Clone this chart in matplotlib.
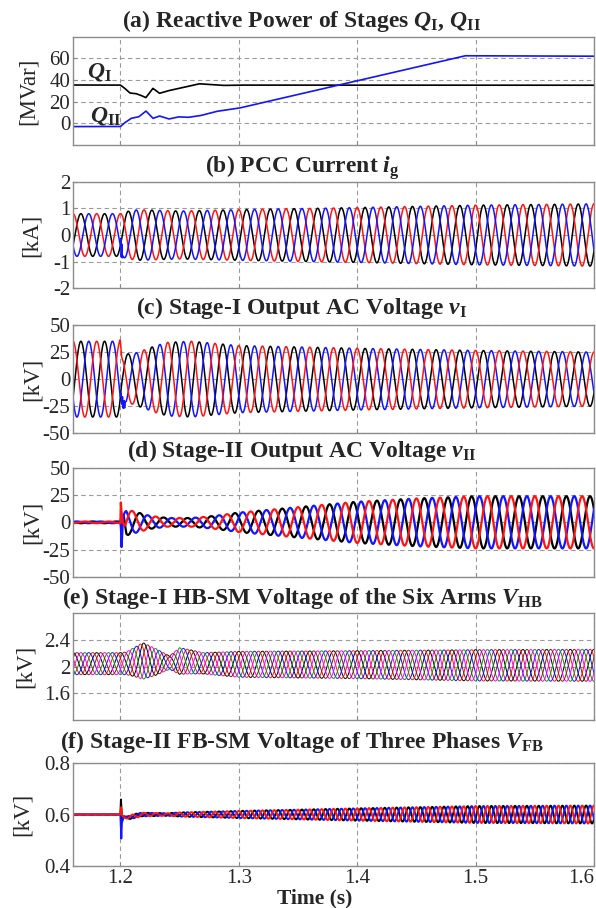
import numpy as np
import matplotlib
matplotlib.use("Agg")
import matplotlib.pyplot as plt

plt.rcParams['font.family'] = ['Liberation Serif', 'DejaVu Serif']
plt.rcParams['mathtext.fontset'] = 'custom'
plt.rcParams['mathtext.rm'] = 'Liberation Serif:bold'
plt.rcParams['mathtext.it'] = 'Liberation Serif:italic:bold'
plt.rcParams['mathtext.bf'] = 'Liberation Serif:bold'
plt.rcParams['axes.unicode_minus'] = False

# ---------------------------------------------------------------- data
F_GRID = 50.0            # fundamental frequency [Hz]
F_FB_RIPPLE = 100.0      # FB-SM capacitor ripple frequency [Hz]
T_START, T_END = 1.16, 1.6
t = np.linspace(T_START, T_END, 22001)

# (a) reactive power of the two stages [MVar]
q1_t = [1.16, 1.200, 1.203, 1.208, 1.213, 1.217, 1.2215, 1.2275, 1.233, 1.240,
        1.246, 1.2556, 1.2668, 1.276, 1.286, 1.30, 1.40, 1.50, 1.60]
q1_val = [35.4, 35.4, 33.0, 28.0, 27.5, 26.0, 23.7, 32.3, 27.7, 30.0,
          31.4, 33.8, 36.5, 35.8, 35.0, 35.3, 35.3, 35.3, 35.2]
q2_t = [1.16, 1.200, 1.203, 1.209, 1.2155, 1.2216, 1.2275, 1.233, 1.241,
        1.249, 1.257, 1.267, 1.281, 1.300, 1.491, 1.60]
q2_val = [-3.0, -3.0, 0.0, 4.6, 6.0, 11.4, 4.6, 6.8, 4.0,
          6.0, 5.5, 7.0, 11.0, 14.0, 62.4, 62.0]

# (b) PCC current amplitude envelope [kA]
ig_env_t = [1.16, 1.200, 1.205, 1.215, 1.25, 1.30, 1.40, 1.50, 1.60]
ig_env_amp = [0.80, 0.80, 0.88, 0.95, 0.90, 0.95, 1.03, 1.12, 1.17]
ig_blue_tr_t = [1.2000, 1.2004, 1.2008, 1.2012, 1.2016, 1.2022]
ig_blue_tr_val = [0.0, 0.35, -0.25, 0.30, -0.15, 0.0]

# (c) Stage-I output voltage amplitude envelope [kV]
v1_env_t = [1.16, 1.1995, 1.2015, 1.21, 1.22, 1.23, 1.24, 1.26, 1.28, 1.30, 1.40, 1.50, 1.60]
v1_env_amp = [35.0, 35.0, 24.0, 23.0, 27.0, 31.0, 34.0, 35.0, 33.0, 31.0, 28.5, 26.5, 25.0]
v1_blue_tr_t = [1.2000, 1.2006, 1.2012, 1.2018, 1.2024, 1.2030, 1.2036, 1.2042, 1.2050]
v1_blue_tr_val = [0.0, 6.0, -3.0, 5.0, -4.0, 4.0, -3.0, 2.0, 0.0]
v1_red_tr_t = [1.1990, 1.2000, 1.2010, 1.2030]
v1_red_tr_val = [0.0, 3.0, -4.0, 0.0]

# (d) Stage-II output voltage amplitude envelope [kV]
v2_phase_deg = 180.0
v2_env_t = [1.16, 1.200, 1.205, 1.215, 1.225, 1.24, 1.26, 1.28, 1.30, 1.35, 1.40, 1.45, 1.50, 1.60]
v2_env_amp = [0.8, 0.8, 12.0, 9.0, 6.0, 4.0, 4.0, 6.0, 9.0, 14.0, 19.0, 22.0, 24.0, 24.0]
v2_red_tr_t = [1.2000, 1.2004, 1.2008, 1.2020, 1.2040]
v2_red_tr_val = [0.0, 20.0, 14.0, 5.0, 0.0]
v2_blue_tr_t = [1.2000, 1.2005, 1.2010, 1.2018, 1.2030]
v2_blue_tr_val = [0.0, -6.0, -25.0, -8.0, 0.0]
v2_black_tr_t = [1.2000, 1.2008, 1.2030, 1.2050]
v2_black_tr_val = [0.0, 4.0, 8.0, 0.0]

# (e) Stage-I HB-SM voltages of the six arms [kV]
hb_env_t = [1.16, 1.200, 1.205, 1.212, 1.219, 1.230, 1.2415, 1.250, 1.260, 1.270, 1.30, 1.40, 1.50, 1.60]
hb_center = [2.045, 2.045, 2.05, 2.07, 2.085, 2.07, 2.06, 2.085, 2.07, 2.05, 2.035, 2.03, 2.02, 2.02]
hb_amp = [0.165, 0.165, 0.17, 0.22, 0.275, 0.20, 0.10, 0.20, 0.18, 0.16, 0.195, 0.21, 0.235, 0.24]
hb_arm_phase_deg = [0, 60, 120, 180, 240, 300]

# (f) Stage-II FB-SM voltages of the three phases [kV]
fb_nominal = 0.6
fb_env_t = [1.16, 1.200, 1.210, 1.240, 1.25, 1.30, 1.40, 1.50, 1.60]
fb_env_amp = [0.0, 0.0, 0.008, 0.005, 0.008, 0.014, 0.024, 0.033, 0.035]
fb_common_tr_t = [1.2000, 1.2030, 1.2070, 1.2120, 1.2180]
fb_common_tr_val = [0.0, -0.010, -0.012, -0.006, 0.0]
fb_black_tr_t = [1.2000, 1.2005, 1.2015, 1.2030]
fb_black_tr_val = [0.0, 0.060, -0.020, 0.0]
fb_blue_tr_t = [1.2000, 1.2008, 1.2012, 1.2025]
fb_blue_tr_val = [0.0, -0.090, -0.030, 0.0]
fb_red_tr_t = [1.2000, 1.2006, 1.2015]
fb_red_tr_val = [0.0, 0.030, 0.0]

# phase order and colours: red, black, blue
phase_names = ['a', 'b', 'c']
phase_shift_deg = [0.0, -120.0, -240.0]
phase_colors = ['#ff1414', '#000000', '#1414ff']
arm_colors = ['#000000', '#ff1414', '#1414ff', '#1a8c1a', '#ff00ff', '#8b1a1a']

x_ticks = [1.2, 1.3, 1.4, 1.5, 1.6]


def env(tk, vk):
    return np.interp(t, tk, vk)


def bump(tk, vk):
    return np.interp(t, tk, vk, left=0.0, right=0.0)


def three_phase(env_t, env_amp, f=F_GRID, offset_deg=0.0):
    a = env(env_t, env_amp)
    out = []
    for sh in phase_shift_deg:
        ph = np.deg2rad(sh + offset_deg)
        out.append(a * np.cos(2 * np.pi * f * (t - T_START) + ph))
    return out


# ---------------------------------------------------------------- figure
W, H = 596, 908
fig = plt.figure(figsize=(W / 100, H / 100), dpi=100)

AX_L, AX_R = 73, 594
panel_px = [(36.7, 145.0), (181.7, 288.3), (325.0, 433.3),
            (468.0, 576.7), (613.3, 720.0), (763.0, 866.0)]
title_base_px = [26.7, 173.0, 314.0, 456.7, 604.0, 748.0]
titles = [r'(a) Reactive Power of Stages $Q_{\mathrm{I}}$, $Q_{\mathrm{II}}$',
          r'(b) PCC Current $i_{\mathrm{g}}$',
          r'(c) Stage-I Output AC Voltage $v_{\mathrm{I}}$',
          r'(d) Stage-II Output AC Voltage $v_{\mathrm{II}}$',
          r'(e) Stage-I HB-SM Voltage of the Six Arms $V_{\mathrm{HB}}$',
          r'(f) Stage-II FB-SM Voltage of Three Phases $V_{\mathrm{FB}}$']
ylabels = ['[MVar]', '[kA]', '[kV]', '[kV]', '[kV]', '[kV]']
ylabel_x_px = [28, 31, 32, 32, 25, 22]
ylims = [(-20, 80), (-2, 2), (-50, 50), (-50, 50), (1.2, 2.8), (0.4, 0.8)]
yticks = [[0, 20, 40, 60], [-2, -1, 0, 1, 2], [-50, -25, 0, 25, 50],
          [-50, -25, 0, 25, 50], [1.6, 2, 2.4], [0.4, 0.6, 0.8]]

TEXT_COL = '#262626'
SPINE_COL = '#8c8c8c'
GRID_COL = '#9a9a9a'

axes = []
for i, (top, bot) in enumerate(panel_px):
    ax = fig.add_axes([AX_L / W, 1 - bot / H, (AX_R - AX_L) / W, (bot - top) / H])
    ax.set_xlim(T_START, T_END)
    ax.set_ylim(*ylims[i])
    ax.set_yticks(yticks[i])
    ax.set_yticklabels([f'{v:g}' for v in yticks[i]])
    ax.set_xticks(x_ticks)
    if i < 5:
        ax.set_xticklabels([])
    else:
        ax.set_xticklabels([f'{v:g}' for v in x_ticks])
    ax.grid(True, color=GRID_COL, linestyle=(0, (4, 3)), linewidth=0.8)
    ax.set_axisbelow(True)
    for s in ax.spines.values():
        s.set_color(SPINE_COL)
        s.set_linewidth(1.0)
    ax.tick_params(direction='in', length=3, color=SPINE_COL,
                   labelsize=15, labelcolor=TEXT_COL, pad=2)
    ax.set_ylabel(ylabels[i], fontsize=16.5, color=TEXT_COL, va='center')
    ax.yaxis.set_label_coords((ylabel_x_px[i] - AX_L) / (AX_R - AX_L), 0.5)
    fig.text(302 / W, 1 - title_base_px[i] / H, titles[i], ha='center',
             va='baseline', fontsize=17, fontweight='bold', color=TEXT_COL)
    axes.append(ax)

# keep the last time label inside the canvas
last_lbl = axes[5].get_xticklabels()[-1]
last_lbl.set_horizontalalignment('right')

# (a) reactive power
ax = axes[0]
ax.plot(t, env(q1_t, q1_val), color='#000000', lw=1.2)
ax.plot(t, env(q2_t, q2_val), color='#1414ff', lw=1.2)
ax.text(1.1716, 42, r'$Q_{\mathrm{I}}$', fontsize=17, color=TEXT_COL, ha='left', va='baseline')
ax.text(1.1740, 2.0, r'$Q_{\mathrm{II}}$', fontsize=17, color=TEXT_COL, ha='left', va='baseline')

# (b) PCC current
ax = axes[1]
ig = three_phase(ig_env_t, ig_env_amp)
ig[2] = ig[2] + bump(ig_blue_tr_t, ig_blue_tr_val)
for k in (1, 0, 2):
    ax.plot(t, ig[k], color=phase_colors[k], lw=1.1)

# (c) Stage-I output voltage
ax = axes[2]
v1 = three_phase(v1_env_t, v1_env_amp)
v1[2] = v1[2] + bump(v1_blue_tr_t, v1_blue_tr_val)
v1[0] = v1[0] + bump(v1_red_tr_t, v1_red_tr_val)
for k in (1, 2, 0):
    ax.plot(t, v1[k], color=phase_colors[k], lw=1.1)

# (d) Stage-II output voltage
ax = axes[3]
v2 = three_phase(v2_env_t, v2_env_amp, offset_deg=v2_phase_deg)
v2[0] = v2[0] + bump(v2_red_tr_t, v2_red_tr_val)
v2[1] = v2[1] + bump(v2_black_tr_t, v2_black_tr_val)
v2[2] = v2[2] + bump(v2_blue_tr_t, v2_blue_tr_val)
for k in (1, 2, 0):
    ax.plot(t, v2[k], color=phase_colors[k], lw=1.6)

# (e) HB-SM voltages of six arms
ax = axes[4]
c_e = env(hb_env_t, hb_center)
a_e = env(hb_env_t, hb_amp)
for ph, col in zip(hb_arm_phase_deg, arm_colors):
    ax.plot(t, c_e + a_e * np.cos(2 * np.pi * F_GRID * (t - T_START) + np.deg2rad(ph)),
            color=col, lw=0.7)

# (f) FB-SM voltages of three phases
ax = axes[5]
fb = three_phase(fb_env_t, fb_env_amp, f=F_FB_RIPPLE)
common = bump(fb_common_tr_t, fb_common_tr_val)
fb = [fb_nominal + common + w for w in fb]
fb[1] = fb[1] + bump(fb_black_tr_t, fb_black_tr_val)
fb[2] = fb[2] + bump(fb_blue_tr_t, fb_blue_tr_val)
fb[0] = fb[0] + bump(fb_red_tr_t, fb_red_tr_val)
for k in (1, 2, 0):
    ax.plot(t, fb[k], color=phase_colors[k], lw=1.4)

fig.text(315 / W, 1 - 903 / H, 'Time (s)', ha='center', va='baseline',
         fontsize=15.5, fontweight='bold', color=TEXT_COL)

fig.savefig('out.png', dpi=100)
